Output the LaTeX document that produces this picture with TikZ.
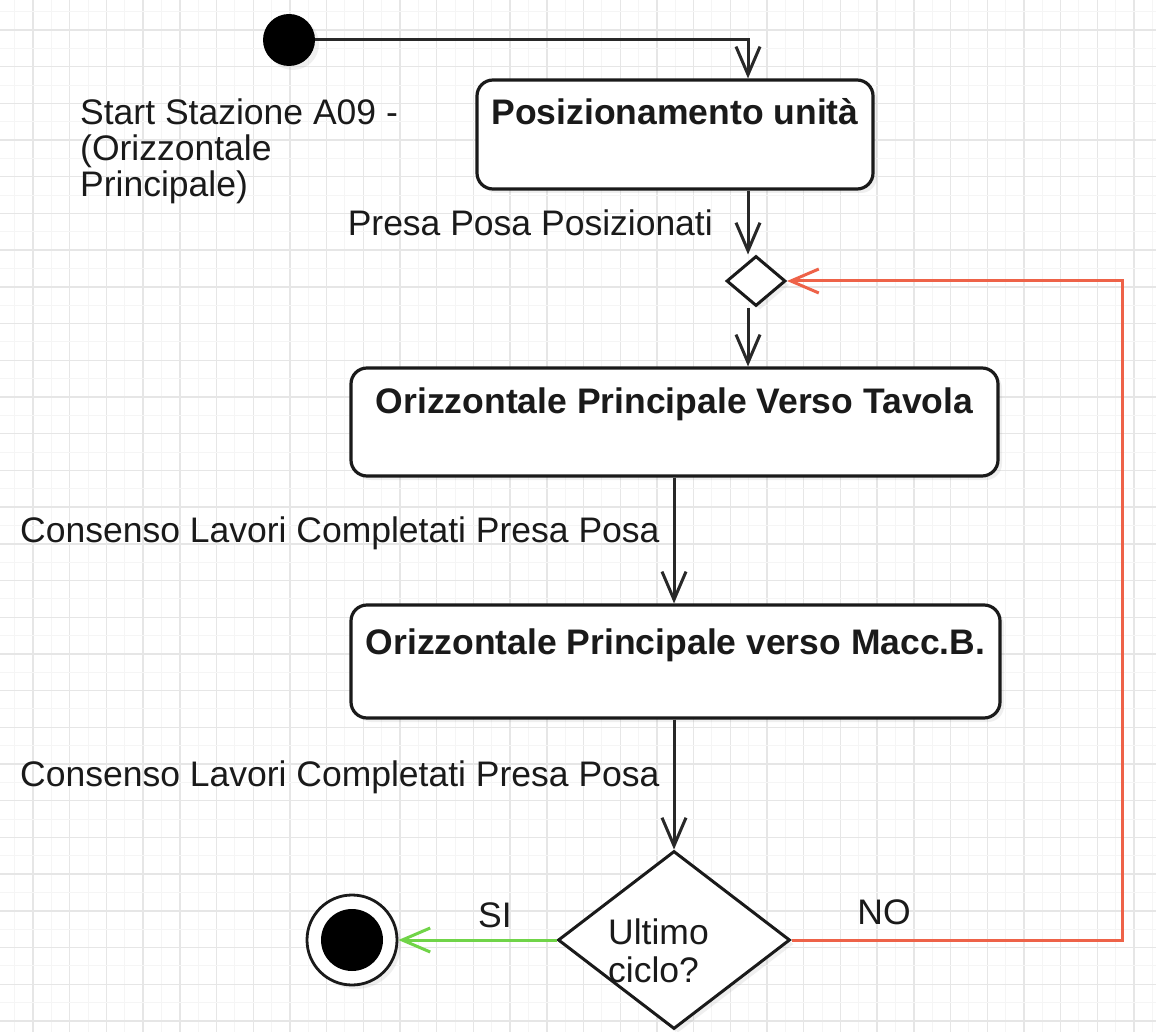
\documentclass[tikz,border=0pt]{standalone}
\usepackage{fontspec}
\setmainfont{Liberation Sans}
\usetikzlibrary{arrows.meta,shapes.geometric,shadows}

\definecolor{gridmajor}{RGB}{230,230,230}
\definecolor{gridminor}{RGB}{245,245,245}
\definecolor{ink}{RGB}{26,26,26}
\definecolor{wire}{RGB}{40,40,40}
\definecolor{loopred}{RGB}{238,98,72}
\definecolor{yesgreen}{RGB}{112,212,72}

\tikzset{
  lbl/.style={font=\fontsize{35.5}{36}\selectfont, text=ink, inner sep=0pt},
  boxtitle/.style={font=\fontsize{35.5}{36}\selectfont\bfseries, text=ink, inner sep=0pt},
  soft/.style={drop shadow={opacity=0.12, shadow xshift=4pt, shadow yshift=-4pt}},
  action/.style={draw=ink, line width=3.2pt, rounded corners=16pt, fill=white,
    inner sep=0pt, soft},
  choice/.style={draw=ink, line width=3pt, shape=diamond, fill=white,
    inner sep=0pt, soft},
  tip/.style={-{Straight Barb[length=28pt,width=24pt,line width=3pt]}},
  flow/.style={draw=wire, line width=3pt, tip},
  back/.style={draw=loopred, line width=3pt, tip},
  yes/.style={draw=yesgreen, line width=3pt, tip},
}

\begin{document}
\begin{tikzpicture}[x=1pt,y=-1pt]
  \useasboundingbox (0,0) rectangle (1156,1032);
  \fill[white] (0,0) rectangle (1156,1032);

  % background grid
  \begin{scope}
    \clip (0,0) rectangle (1156,1032);
    \foreach \i in {0,...,32} {
      \draw[gridminor, line width=1pt] ({-3.7+36.7*\i+18.35},0) -- ++(0,1032);
      \draw[gridmajor, line width=1.4pt] ({-3.7+36.7*\i},0) -- ++(0,1032);
    }
    \foreach \j in {0,...,29} {
      \draw[gridminor, line width=1pt] (0,{-6.7+36.7*\j+18.35}) -- ++(1156,0);
      \draw[gridmajor, line width=1.4pt] (0,{-6.7+36.7*\j}) -- ++(1156,0);
    }
  \end{scope}

  % connector columns
  \coordinate (col) at (748,0);
  \coordinate (col2) at (674,0);
  \coordinate (ret) at (1122,281);

  % nodes
  \node[circle, fill=black, minimum size=52pt, inner sep=0pt, soft] (start) at (289,40) {};
  \node[action, minimum width=396pt, minimum height=109pt] (b1) at (675,134.5) {};
  \node[choice, minimum width=59pt, minimum height=50pt, shape aspect=1.18] (d1) at (756,281) {};
  \node[action, minimum width=647pt, minimum height=108pt] (b2) at (674.5,422) {};
  \node[action, minimum width=649pt, minimum height=113pt] (b3) at (675.5,661.5) {};
  \node[choice, minimum width=232pt, minimum height=178pt, shape aspect=1.3] (d2) at (674,940) {};
  \node[circle, draw=ink, line width=2.8pt, fill=white, minimum size=90pt, inner sep=0pt, soft] (stop) at (352,940) {};
  \node[circle, fill=black, minimum size=62pt, inner sep=0pt] (stopdot) at (stop) {};

  % titles of the actions
  \node[boxtitle, anchor=base] (t1) at ([yshift=-46pt]b1.north) {Posizionamento unità};
  \node[boxtitle, anchor=base] (t2) at ([yshift=-47pt]b2.north) {Orizzontale Principale Verso Tavola};
  \node[boxtitle, anchor=base] (t3) at ([yshift=-51pt]b3.north) {Orizzontale Principale verso Macc.B.};

  % free labels
  \node[lbl, anchor=north west, align=left] (lstart) at (80,99)
    {Start Stazione A09 -\\(Orizzontale\\Principale)};
  \node[lbl, anchor=base east] (lpp) at (713,236) {Presa Posa Posizionati};
  \node[lbl, anchor=base west] (lc1) at (20,542) {Consenso Lavori Completati Presa Posa};
  \node[lbl, anchor=base west] (lc2) at (20,786) {Consenso Lavori Completati Presa Posa};
  \node[lbl, anchor=north west, align=left, font=\fontsize{35.5}{38}\selectfont] (lq) at (608,919)
    {Ultimo\\ciclo?};
  \node[lbl] (lsi) at (495,915) {SI};
  \node[lbl] (lno) at (884,912) {NO};

  % connectors
  \draw[flow] (start.east) -| (b1.north -| col);
  \draw[flow] (b1.south -| col) -- (d1.north -| col);
  \draw[flow] (d1.south -| col) -- (b2.north -| col);
  \draw[flow] (b2.south -| col2) -- (b3.north -| col2);
  \draw[flow] (b3.south -| col2) -- (d2.north);
  \draw[yes] (d2.west) -- (stop.east);
  \draw[back] (d2.east) -| (ret) -- (d1.east);
\end{tikzpicture}
\end{document}
